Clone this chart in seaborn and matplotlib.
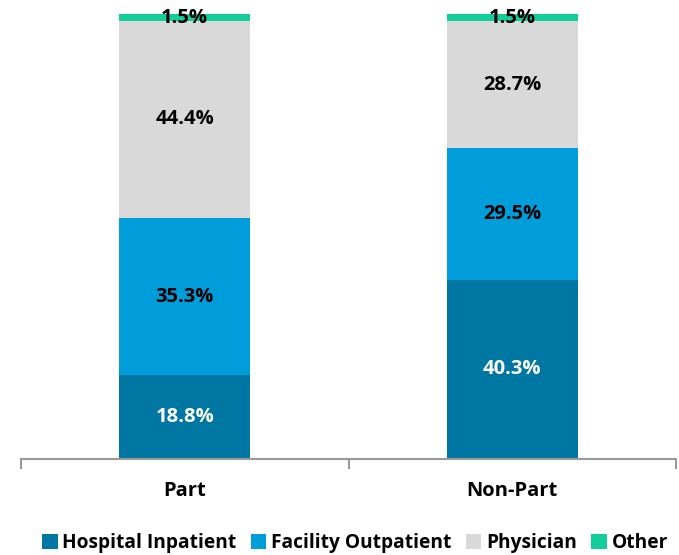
import matplotlib
matplotlib.use("Agg")
import matplotlib.pyplot as plt
from matplotlib.patches import Patch
import seaborn as sns
import pandas as pd
import numpy as np

CATEGORIES = ["Part", "Non-Part"]
SEGMENTS = ["Hospital Inpatient", "Facility Outpatient", "Physician", "Other"]
HOSPITAL_INPATIENT = [18.8, 40.3]
FACILITY_OUTPATIENT = [35.3, 29.5]
PHYSICIAN = [44.4, 28.7]
OTHER = [1.5, 1.5]

COLORS = ["#0077A3", "#009DDB", "#D9D9D9", "#12CF9A"]
TEXT_COLORS = ["white", "black", "black", "black"]


def main():
    sns.set_theme(style="white")
    plt.rcParams["font.family"] = ["Open Sans", "DejaVu Sans"]
    plt.rcParams["text.color"] = "black"
    plt.rcParams["xtick.labelcolor"] = "black"

    values = np.array([HOSPITAL_INPATIENT, FACILITY_OUTPATIENT, PHYSICIAN, OTHER])
    cum = values.cumsum(axis=0)

    fig = plt.figure(figsize=(6.79, 5.55), dpi=100)
    ax = fig.add_axes([21 / 679, 1 - 459 / 555, 655 / 679, 445 / 555])

    # draw cumulative totals from the top down so each layer sits on the next
    for i in reversed(range(len(SEGMENTS))):
        df = pd.DataFrame({"cat": CATEGORIES, "val": cum[i]})
        sns.barplot(data=df, x="cat", y="val", color=COLORS[i], width=0.4,
                    saturation=1, ax=ax, linewidth=0)

    for j in range(len(CATEGORIES)):
        for i in range(len(SEGMENTS)):
            mid = cum[i, j] - values[i, j] / 2
            if i == 3:
                mid = cum[i, j] - 1.0
            ax.text(j, mid, "%.1f%%" % values[i, j], ha="center", va="center",
                    fontsize=14.5, fontweight="bold", color=TEXT_COLORS[i])

    ax.set_xlim(-0.5, 1.5)
    ax.set_ylim(0, 100)
    ax.set_xlabel("")
    ax.set_ylabel("")
    ax.set_yticks([])
    for s in ["top", "right", "left"]:
        ax.spines[s].set_visible(False)
    ax.spines["bottom"].set_color("#999999")
    ax.spines["bottom"].set_linewidth(1.5)
    ax.set_xticks([0, 1])
    ax.set_xticklabels(CATEGORIES, fontsize=14.5, fontweight="bold", color="black")
    ax.tick_params(axis="x", which="major", length=0, pad=16)
    ax.set_xticks([-0.5, 0.5, 1.5], minor=True)
    ax.tick_params(axis="x", which="minor", length=7, width=1.5,
                   color="#999999", direction="out", bottom=True)

    handles = [Patch(facecolor=c, edgecolor="none") for c in COLORS]
    leg = fig.legend(handles, SEGMENTS, loc="center", bbox_to_anchor=(0.523, 1 - 543 / 555),
                     ncol=4, frameon=False, handlelength=0.8, handleheight=0.8,
                     handletextpad=0.25, columnspacing=0.75,
                     prop={"size": 13.8, "weight": "bold"})
    for t in leg.get_texts():
        t.set_color("black")

    fig.savefig("out.png", dpi=100)


if __name__ == "__main__":
    main()
